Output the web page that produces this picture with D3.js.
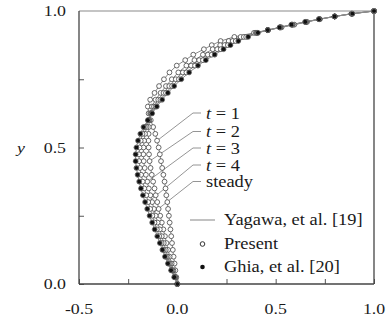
<!DOCTYPE html>
<html>
<head>
<meta charset="utf-8">
<script src="https://cdn.jsdelivr.net/npm/d3@7"></script>
<style>
  body { margin: 0; background: #fff; }
  svg { display: block; }
  text { font-family: "Liberation Serif", "Times New Roman", serif; fill: #1a1a1a; }
</style>
</head>
<body>
<svg id="chart" width="388" height="324"></svg>
<script>
// Vertical positions of the profile nodes (y)
const yNodes = [0, 0.025, 0.05, 0.075, 0.1, 0.125, 0.15, 0.175, 0.2, 0.225, 0.25, 0.275,
  0.3, 0.325, 0.35, 0.375, 0.4, 0.425, 0.45, 0.475, 0.5, 0.525, 0.55, 0.575,
  0.6, 0.625, 0.65, 0.675, 0.7, 0.725, 0.75, 0.775, 0.8,
  0.82, 0.84, 0.86, 0.875, 0.89, 0.905, 0.92, 0.93, 0.94, 0.95, 0.96, 0.97, 0.98, 0.99, 1.0];

// Horizontal velocity u at each node, one list per time
const uT1 = [0, -0.005, -0.010, -0.014, -0.019, -0.023, -0.027, -0.031, -0.035, -0.039, -0.043, -0.047,
  -0.051, -0.056, -0.060, -0.065, -0.071, -0.077, -0.083, -0.089, -0.095, -0.103, -0.112, -0.123,
  -0.135, -0.146, -0.150, -0.138, -0.116, -0.093, -0.068, -0.040, -0.003,
  0.040, 0.081, 0.135, 0.175, 0.220, 0.290, 0.390, 0.460, 0.530, 0.595, 0.660, 0.725, 0.800, 0.885, 1.0];
const uT2 = [0, -0.010, -0.020, -0.029, -0.039, -0.047, -0.055, -0.063, -0.071, -0.079, -0.087, -0.095,
  -0.102, -0.110, -0.116, -0.123, -0.130, -0.136, -0.141, -0.144, -0.146, -0.147, -0.146, -0.145,
  -0.142, -0.138, -0.129, -0.111, -0.085, -0.058, -0.028, 0.005, 0.046,
  0.087, 0.130, 0.180, 0.218, 0.261, 0.322, 0.399, 0.460, 0.525, 0.588, 0.655, 0.723, 0.800, 0.887, 1.0];
const uT3 = [0, -0.012, -0.025, -0.037, -0.049, -0.059, -0.069, -0.079, -0.089, -0.100, -0.110, -0.119,
  -0.128, -0.137, -0.145, -0.153, -0.160, -0.166, -0.171, -0.173, -0.172, -0.169, -0.164, -0.156,
  -0.145, -0.134, -0.119, -0.097, -0.070, -0.041, -0.008, 0.028, 0.070,
  0.111, 0.155, 0.203, 0.240, 0.281, 0.338, 0.404, 0.460, 0.523, 0.585, 0.653, 0.721, 0.800, 0.888, 1.0];
const uT4 = [0, -0.014, -0.029, -0.043, -0.057, -0.069, -0.080, -0.092, -0.104, -0.116, -0.127, -0.138,
  -0.148, -0.158, -0.168, -0.176, -0.184, -0.190, -0.194, -0.195, -0.192, -0.186, -0.177, -0.165,
  -0.148, -0.131, -0.110, -0.086, -0.058, -0.027, 0.008, 0.046, 0.090,
  0.130, 0.175, 0.221, 0.257, 0.297, 0.350, 0.407, 0.460, 0.521, 0.582, 0.651, 0.720, 0.800, 0.889, 1.0];
const uSteady = [0, -0.016, -0.032, -0.048, -0.063, -0.076, -0.089, -0.102, -0.115, -0.128, -0.141, -0.153,
  -0.164, -0.175, -0.185, -0.194, -0.202, -0.208, -0.212, -0.212, -0.208, -0.200, -0.188, -0.172,
  -0.150, -0.128, -0.104, -0.077, -0.048, -0.016, 0.020, 0.060, 0.105,
  0.145, 0.190, 0.235, 0.270, 0.310, 0.360, 0.410, 0.460, 0.520, 0.580, 0.650, 0.720, 0.800, 0.890, 1.0];

// Reference solution sampled on the same nodes
const uGhia = uSteady;

const seriesLabels = ["t = 1", "t = 2", "t = 3", "t = 4", "steady"];
// node index each label's leader line points at
const labelAnchorNode = [21, 18, 15, 12, 10];

const xTickValues = [-0.5, -0.25, 0, 0.25, 0.5, 0.75, 1.0];
const xTickLabels = ["-0.5", "0.0", "0.5", "1.0"];
const yTickValues = [0, 0.25, 0.5, 0.75, 1.0];
const yTickLabels = ["0.0", "0.5", "1.0"];
const legendLabels = ["Yagawa, et al. [19]", "Present", "Ghia, et al. [20]"];

const svg = d3.select("#chart");
const plot = { left: 79, right: 374, top: 11, bottom: 284 };

const x = d3.scaleLinear().domain([-0.5, 1.0]).range([plot.left, plot.right]);
const y = d3.scaleLinear().domain([0, 1.0]).range([plot.bottom, plot.top]);

const SX = 1.15; // text is set slightly wide
function wideText(parent, px, py, str, anchor, size) {
  const g = parent.append("g").attr("transform", `translate(${px},${py}) scale(${SX},1)`);
  return g.append("text").attr("text-anchor", anchor || "start")
    .attr("dominant-baseline", "central")
    .style("font-size", (size || 15.5) + "px").text(str);
}

// Axes with inward ticks
const xAxis = d3.axisBottom(x).tickValues(xTickValues).tickSizeInner(-5).tickSizeOuter(0).tickFormat("");
const yAxis = d3.axisLeft(y).tickValues(yTickValues).tickSizeInner(-5).tickSizeOuter(0).tickFormat("");
const gx = svg.append("g").attr("transform", `translate(0,${plot.bottom})`).call(xAxis);
const gy = svg.append("g").attr("transform", `translate(${plot.left},0)`).call(yAxis);
[gx, gy].forEach(g => {
  g.select(".domain").remove();
  g.selectAll(".tick line").attr("stroke", "#555").attr("stroke-width", 1);
});

// Frame
const frame = svg.append("g");
frame.append("line").attr("x1", x(-0.5)).attr("x2", x(1.0)).attr("y1", y(1.0)).attr("y2", y(1.0))
  .attr("stroke", "#c4c4c4").attr("stroke-width", 2);
frame.append("line").attr("x1", x(-0.5)).attr("x2", x(-0.5)).attr("y1", y(1.0)).attr("y2", y(0))
  .attr("stroke", "#444").attr("stroke-width", 1.3);
frame.append("line").attr("x1", x(-0.5)).attr("x2", x(1.0)).attr("y1", y(0)).attr("y2", y(0))
  .attr("stroke", "#444").attr("stroke-width", 1.3);
frame.append("line").attr("x1", x(1.0)).attr("x2", x(1.0)).attr("y1", y(1.0)).attr("y2", y(0))
  .attr("stroke", "#444").attr("stroke-width", 1.3);

// Tick labels
const tl = svg.append("g");
[-0.5, 0, 0.5, 1.0].forEach((v, i) => wideText(tl, x(v), 309, xTickLabels[i], "middle"));
[0, 0.5, 1.0].forEach((v, i) => wideText(tl, 66, y(v), yTickLabels[i], "end"));
wideText(tl, 21, y(0.5), "y", "middle").style("font-style", "italic");

// Profiles
const seriesU = [uT1, uT2, uT3, uT4, uSteady];
const profiles = seriesU.map(us => us.map((u, i) => [u, yNodes[i]]));
const line = d3.line().x(d => x(d[0])).y(d => y(d[1]));

svg.append("g").selectAll("path").data(profiles).join("path")
  .attr("d", line).attr("fill", "none").attr("stroke", "#8a8a8a").attr("stroke-width", 1);

// Leader lines for the series labels
const lead = svg.append("g");
const labelY = [113, 131.5, 148, 165, 181.5];
profiles.forEach((p, k) => {
  const a = p[labelAnchorNode[k]];
  lead.append("polyline")
    .attr("points", `${x(a[0])},${y(a[1])} 193,${labelY[k]} 201,${labelY[k]}`)
    .attr("fill", "none").attr("stroke", "#7a7a7a").attr("stroke-width", 0.8);
});

// Present: open circles
svg.append("g").selectAll("g").data(profiles).join("g")
  .selectAll("circle").data(d => d).join("circle")
  .attr("cx", d => x(d[0])).attr("cy", d => y(d[1])).attr("r", 2.4)
  .attr("fill", "#fff").attr("stroke", "#444").attr("stroke-width", 0.8);

// Ghia: filled dots
svg.append("g").selectAll("circle").data(uGhia.map((u, i) => [u, yNodes[i]])).join("circle")
  .attr("cx", d => x(d[0])).attr("cy", d => y(d[1])).attr("r", 2.1)
  .attr("fill", "#111");

// Series labels
const lab = svg.append("g");
seriesLabels.forEach((s, k) => {
  const g = lab.append("g").attr("transform", `translate(206,${labelY[k]}) scale(${SX},1)`);
  const t = g.append("text").attr("dominant-baseline", "central").style("font-size", "16px");
  if (s.startsWith("t")) {
    t.append("tspan").style("font-style", "italic").text("t");
    t.append("tspan").text(s.slice(1));
  } else {
    t.text(s);
  }
});

// Legend
const lg = svg.append("g");
const legY = [220, 244, 267];
lg.append("line").attr("x1", 190).attr("x2", 215).attr("y1", legY[0]).attr("y2", legY[0])
  .attr("stroke", "#9a9a9a").attr("stroke-width", 1.2);
lg.append("circle").attr("cx", 202.5).attr("cy", legY[1]).attr("r", 2.3)
  .attr("fill", "#fff").attr("stroke", "#333").attr("stroke-width", 1);
lg.append("circle").attr("cx", 202.5).attr("cy", legY[2]).attr("r", 2.3).attr("fill", "#111");
legendLabels.forEach((s, i) => wideText(lg, 224, legY[i], s, "start", 16));
</script>
</body>
</html>
